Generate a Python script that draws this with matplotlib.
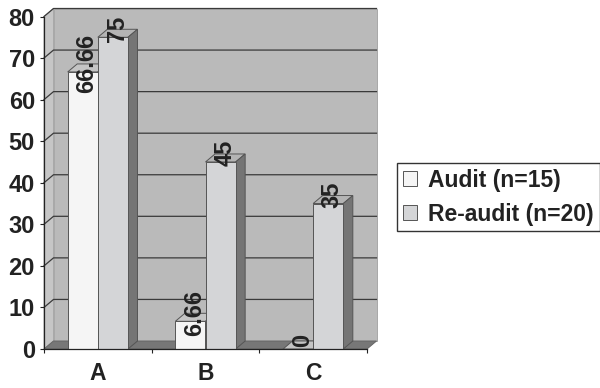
import matplotlib
matplotlib.use('Agg')
import matplotlib.pyplot as plt
import numpy as np
from matplotlib.patches import Polygon

categories = ['A', 'B', 'C']
audit = [66.66, 6.66, 0]
reaudit = [75, 45, 35]
audit_labels = ['66.66', '6.66', '0']
reaudit_labels = ['75', '45', '35']
y_ticks = [0, 10, 20, 30, 40, 50, 60, 70, 80]
series_names = ['Audit (n=15)', 'Re-audit (n=20)']

plt.rcParams['font.family'] = ['Liberation Sans', 'DejaVu Sans']
plt.rcParams['font.weight'] = 'bold'

W, H = 600, 388
fig = plt.figure(figsize=(W / 100, H / 100), dpi=100, facecolor='white')
ax = fig.add_axes([44 / W, 1 - 349 / H, 323 / W, 332.5 / H])
ax.set_xlim(0, 3)
ax.set_ylim(0, 80)

# depth of the fake 3d box, in data units
dx = 9.5 / (323 / 3)
dy = 8 / (332.5 / 80)
bar_w = 0.28


def poly(pts, fc, ec='#555555', lw=0.7, z=2):
	ax.add_patch(Polygon(pts, closed=True, fc=fc, ec=ec, lw=lw, zorder=z, clip_on=False))


# walls and floor
poly([(dx, dy), (3 + dx, dy), (3 + dx, 80 + dy), (dx, 80 + dy)], '#bababa', ec='#a8a8a8', z=1)
poly([(0, 0), (dx, dy), (dx, 80 + dy), (0, 80)], '#c6c6c6', ec='#a8a8a8', z=1)
poly([(0, 0), (3, 0), (3 + dx, dy), (dx, dy)], '#777777', ec='#666666', z=1.2)

for v in y_ticks[1:]:
	ax.plot([0, dx, 3 + dx], [v, v + dy, v + dy], color='#3a3a3a', lw=0.9, zorder=1.5, clip_on=False)

x = np.arange(len(categories)) + 0.5


def bar3d(x_left, val, top, side):
	poly([(x_left, val), (x_left + dx, val + dy), (x_left + bar_w + dx, val + dy), (x_left + bar_w, val)], top, z=3)
	if val > 0:
		poly([(x_left + bar_w, 0), (x_left + bar_w + dx, dy), (x_left + bar_w + dx, val + dy), (x_left + bar_w, val)], side, z=3)


for i in range(len(categories)):
	bar3d(x[i] - bar_w, audit[i], '#c4c4c4', '#777777')
	bar3d(x[i], reaudit[i], '#b4b4b4', '#757575')

bars_a = ax.bar(x - bar_w / 2, audit, bar_w, color='#f5f5f5', edgecolor='#555555', lw=0.7, zorder=4)
bars_b = ax.bar(x + bar_w / 2, reaudit, bar_w, color='#d4d5d7', edgecolor='#555555', lw=0.7, zorder=4)

for i in range(len(categories)):
	ax.annotate(audit_labels[i], (x[i] - bar_w / 2, audit[i]), xytext=(3, 6.2), textcoords='offset points',
		rotation=90, ha='center', va='center', fontsize=17, color='#222222', zorder=6, annotation_clip=False)
	ax.annotate(reaudit_labels[i], (x[i] + bar_w / 2, reaudit[i]), xytext=(3, 6.2), textcoords='offset points',
		rotation=90, ha='center', va='center', fontsize=17, color='#222222', zorder=6, annotation_clip=False)

for s in ['top', 'right']:
	ax.spines[s].set_visible(False)
for s in ['left', 'bottom']:
	ax.spines[s].set_color('#222222')
	ax.spines[s].set_linewidth(0.9)
	ax.spines[s].set_zorder(5)
ax.set_yticks(y_ticks)
ax.set_xticks([0, 1, 2, 3])
ax.set_xticklabels([])
ax.set_xticks(x, minor=True)
ax.set_xticklabels(categories, minor=True, fontsize=16.5, color='#222222')
ax.tick_params(axis='x', which='major', length=3, color='#222222')
ax.tick_params(axis='x', which='minor', length=0, pad=9)
ax.tick_params(axis='y', length=3, color='#222222', labelsize=17, labelcolor='#222222', pad=3.5)

leg = fig.legend([bars_a, bars_b], series_names, loc='upper left', bbox_to_anchor=(397 / W, 1 - 163 / H),
	bbox_transform=fig.transFigure, fontsize=16.5, fancybox=False, edgecolor='#333333', borderaxespad=0,
	handlelength=0.61, handleheight=0.61, handletextpad=0.5, labelspacing=0.48, borderpad=0.25, labelcolor='#222222')
leg.get_frame().set_linewidth(1.0)
leg.get_frame().set_alpha(1)

fig.savefig('out.png', dpi=100)
